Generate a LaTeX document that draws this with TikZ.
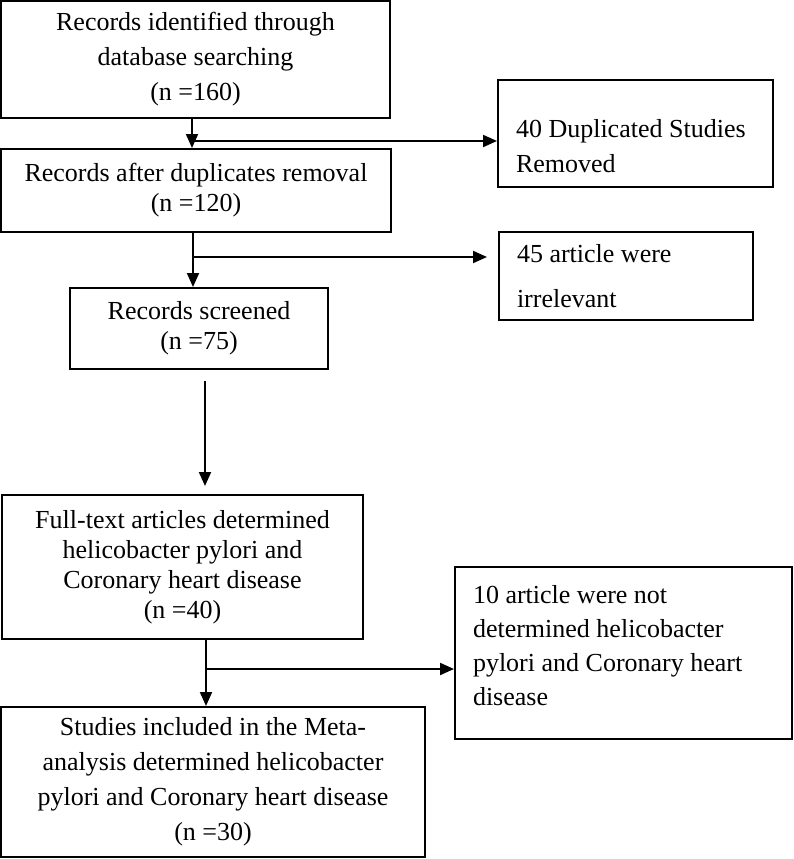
\documentclass[tikz,border=0pt]{standalone}
\usepackage{fontspec}
\setmainfont{Liberation Serif}
\usepackage{tikz}
\usetikzlibrary{arrows.meta}

\tikzset{
  box/.style={draw, line width=2pt, align=center, inner sep=0pt, font=\fontsize{26}{30}\selectfont},
  sidebox/.style={box, align=flush left, inner xsep=18pt},
  arr/.style={line width=2pt, -{Triangle[length=14pt,width=12pt]}}
}

\begin{document}
\begin{tikzpicture}[x=1pt, y=-1pt]
\useasboundingbox (0,0) rectangle (793,859);

% main column
\node[box, minimum width=389pt, minimum height=117pt, font=\fontsize{26}{35}\selectfont] (b1) at (195.5,59.5) {Records identified through\\database searching\\(n =160)};
\node[box, minimum width=390pt, minimum height=83pt] (b3) at (196,190.5) {Records after duplicates removal\\(n =120)};
\node[box, minimum width=258pt, minimum height=81pt] (b5) at (199,328.5) {Records screened\\(n =75)};
\node[box, minimum width=361pt, minimum height=144pt] (b6) at (182.5,567) {Full-text articles determined\\helicobacter pylori and\\Coronary heart disease\\(n =40)};
\node[box, minimum width=424pt, minimum height=150pt, font=\fontsize{26}{35}\selectfont] (b8) at (213,782) {Studies included in the Meta-\\analysis determined helicobacter\\pylori and Coronary heart disease\\(n =30)};

% excluded records
\node[sidebox, minimum width=275pt, minimum height=107pt, text width=239pt, font=\fontsize{26}{35}\selectfont] (b2) at (635.5,133.5) {\rule{0pt}{44pt}40 Duplicated Studies\\Removed};
\node[sidebox, minimum width=254pt, minimum height=88pt, text width=218pt, font=\fontsize{26}{45}\selectfont] (b4) at (626,276) {45 article were\\irrelevant};
\node[sidebox, minimum width=337pt, minimum height=172pt, text width=301pt, font=\fontsize{26}{34}\selectfont] (b7) at (623.5,653) {10 article were not\\determined helicobacter\\pylori and Coronary heart\\disease\rule[-16pt]{0pt}{16pt}};

\coordinate (j1) at (192,141);
\coordinate (j2) at (193,257);
\coordinate (j3) at (205,0);
\coordinate (j4) at (206,669);

\draw[arr] (b1.south -| j1) -- (b3.north -| j1);
\draw[arr] (j1) -- (j1 -| b2.west);
\draw[arr] (b3.south -| j2) -- (b5.north -| j2);
\draw[arr, shorten >=11pt] (j2) -- (j2 -| b4.west);
\draw[arr, shorten <=11pt, shorten >=8pt] (b5.south -| j3) -- (b6.north -| j3);
\draw[arr] (b6.south -| j4) -- (b8.north -| j4);
\draw[arr] (j4) -- (j4 -| b7.west);
\end{tikzpicture}
\end{document}
